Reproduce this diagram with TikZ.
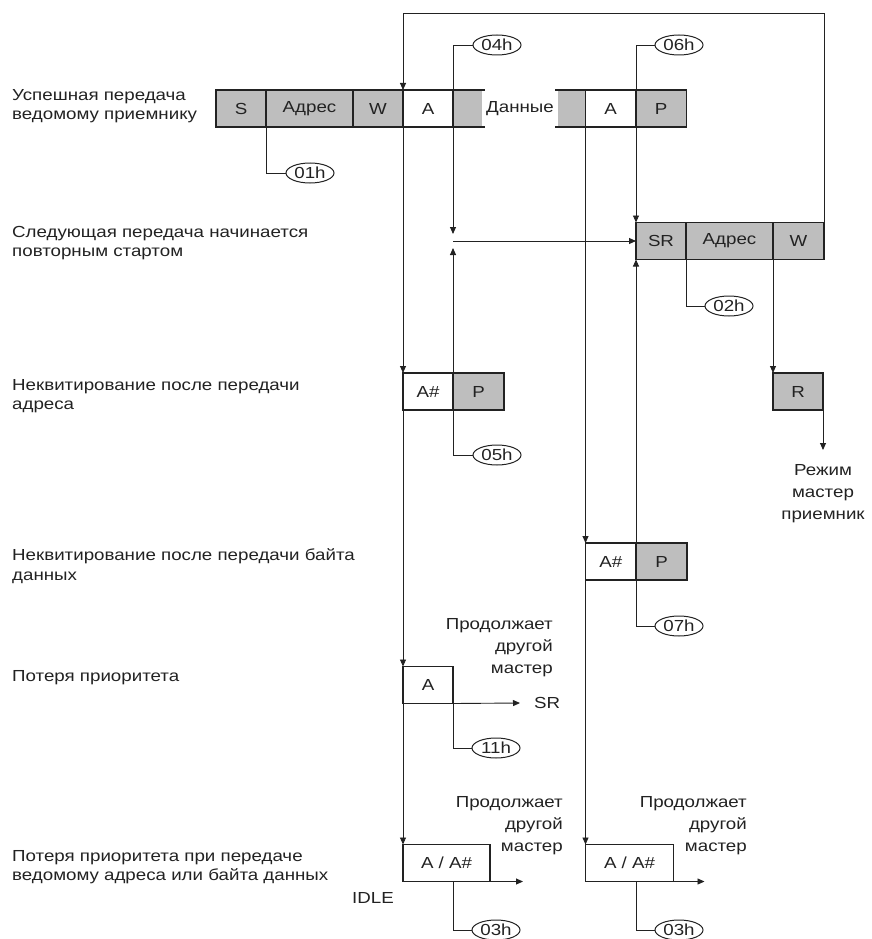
\documentclass[tikz,border=0pt]{standalone}
\usepackage{fontspec}
\setmainfont{Liberation Sans}[FakeStretch=1.17]
\usetikzlibrary{positioning,shapes.geometric,arrows.meta}
\definecolor{fieldgray}{RGB}{190,190,190}
\definecolor{ink}{RGB}{34,34,34}
\newcommand{\txtsize}{\fontsize{16}{19}\selectfont}

\begin{document}
\begin{tikzpicture}[x=1pt,y=-1pt,
    field/.style={draw=ink, line width=1.6pt, minimum height=37pt, inner sep=0pt, outer sep=0pt, font=\txtsize, text=ink},
    shade/.style={field, fill=fieldgray},
    halfbox/.style={fill=fieldgray, minimum height=37pt, inner sep=0pt, outer sep=0pt},
    edge/.style={draw=ink, line width=1.6pt},
    tag/.style={draw=ink, ellipse, line width=1pt, minimum width=48pt, minimum height=20pt, inner sep=0pt, font=\txtsize, text=ink},
    link/.style={draw=ink, line width=0.9pt},
    tip/.style={link, -{Triangle[length=7pt,width=6pt]}},
    lbl/.style={align=left, anchor=west, inner sep=0pt, font=\fontsize{16}{19.5}\selectfont, text=ink},
    note/.style={align=right, anchor=east, inner sep=0pt, font=\fontsize{16}{22}\selectfont, text=ink}]
  \useasboundingbox (0,0) rectangle (871,939);

  \node[lbl] (l1) at (12,106) {Успешная передача\\ведомому приемнику};
  \node[lbl] (l2) at (12,243) {Следующая передача начинается\\повторным стартом};
  \node[lbl] (l3) at (12,396) {Неквитирование после передачи\\адреса};
  \node[lbl] (l4) at (12,566) {Неквитирование после передачи байта\\данных};
  \node[lbl] (l5) at (12,678) {Потеря приоритета};
  \node[lbl] (l6) at (12,867) {Потеря приоритета при передаче\\ведомому адреса или байта данных};

  \node[shade, anchor=west, minimum width=50pt] (s1) at (216,108.5) {S};
  \node[shade, minimum width=87pt, right=0pt of s1] (adr1) {Адрес};
  \node[shade, minimum width=50pt, right=0pt of adr1] (w1) {W};
  \node[field, minimum width=50pt, right=0pt of w1] (a1) {A};
  \node[halfbox, minimum width=29pt, right=0pt of a1] (g1) {};
  \node[font=\txtsize, text=ink] (data) at (520,108.5) {Данные};
  \node[halfbox, anchor=east, minimum width=28pt] (g2) at (585.5,108.5) {};
  \node[field, minimum width=50pt, right=0pt of g2] (a2) {A};
  \node[shade, minimum width=51pt, right=0pt of a2] (p1) {P};
  \draw[edge] (g1.north west) -- ++(32,0) (g1.south west) -- ++(32,0);
  \draw[edge] (g2.north east) -- ++(-30.5,0) (g2.south east) -- ++(-30.5,0);

  \node[shade, anchor=west, minimum width=50pt] (sr) at (636,241) {SR};
  \node[shade, minimum width=87pt, right=0pt of sr] (adr2) {Адрес};
  \node[shade, minimum width=51pt, right=0pt of adr2] (w2) {W};

  \node[field, anchor=west, minimum width=50pt] (na1) at (403,391.5) {A\#};
  \node[shade, minimum width=51pt, right=0pt of na1] (p2) {P};
  \node[shade, anchor=west, minimum width=50pt] (r) at (773,391.5) {R};

  \node[field, anchor=west, minimum width=50.5pt] (nd) at (585.5,561.5) {A\#};
  \node[shade, minimum width=51pt, right=0pt of nd] (p3) {P};

  \node[field, anchor=west, minimum width=50pt] (la) at (403,685) {A};
  \node[field, anchor=west, minimum width=87pt] (lb1) at (403,863) {A / A\#};
  \node[field, anchor=west, minimum width=88pt] (lb2) at (585.5,863) {A / A\#};

  \node[tag] (t01) at (310,173) {01h};
  \node[tag] (t04) at (497,45) {04h};
  \node[tag] (t06) at (679,45) {06h};
  \node[tag] (t02) at (729,306) {02h};
  \node[tag] (t05) at (497,455) {05h};
  \node[tag] (t07) at (679,626) {07h};
  \node[tag] (t11) at (496,748) {11h};
  \node[tag] (t03a) at (496,930) {03h};
  \node[tag] (t03b) at (679,930) {03h};

  \node[note] (n1) at (553,648) {Продолжает\\другой\\мастер};
  \node[note] (n2) at (563,826) {Продолжает\\другой\\мастер};
  \node[note] (n3) at (747,826) {Продолжает\\другой\\мастер};
  \node[align=center, inner sep=0pt, font=\fontsize{16}{22}\selectfont, text=ink] (mode) at (823,494) {Режим\\мастер\\приемник};
  \node[anchor=west, inner sep=0pt, font=\txtsize, text=ink] (srtxt) at (534,703) {SR};
  \node[inner sep=0pt, font=\txtsize, text=ink] (idle) at (373,898) {IDLE};

  \coordinate (top) at (0,13);
  \coordinate (jn) at (a1.east |- sr.west);
  \coordinate (rend) at (823,450);

  \draw[tip] (w2.north east) -- (w2.north east |- top) -| (a1.north west);
  \draw[tip] (a1.south west) -- (na1.north west);
  \draw[tip] (na1.south west) -- (la.north west);
  \draw[tip] (la.south west) -- (lb1.north west);
  \draw[tip] (a2.south west) -- (nd.north west);
  \draw[tip] (nd.south west) -- (lb2.north west);

  \draw[link] (s1.south east) |- (t01.west);
  \draw[tip] (t04.west) -| ([yshift=7pt]jn);
  \draw[tip] (t05.west) -| ([yshift=-7pt]jn);
  \draw[tip] (jn) -- (sr.west);
  \draw[tip] (t06.west) -| (sr.north west);
  \draw[tip] (t07.west) -| (sr.south west);
  \draw[link] (sr.south east) |- (t02.west);
  \draw[tip] (adr2.south east) -- (r.north west);
  \draw[tip] (r.south east) -- (rend);

  \draw[link] (la.south east) |- (t11.west);
  \draw[tip] (la.south east) -- ([xshift=-14pt]srtxt.west);
  \draw[tip] (lb1.south east) -- ++(33,0);
  \draw[link] (la.south east |- lb1.south) |- (t03a.west);
  \draw[tip] (lb2.south east) -- ++(31,0);
  \draw[link] (nd.south east |- lb2.south) |- (t03b.west);
\end{tikzpicture}
\end{document}
